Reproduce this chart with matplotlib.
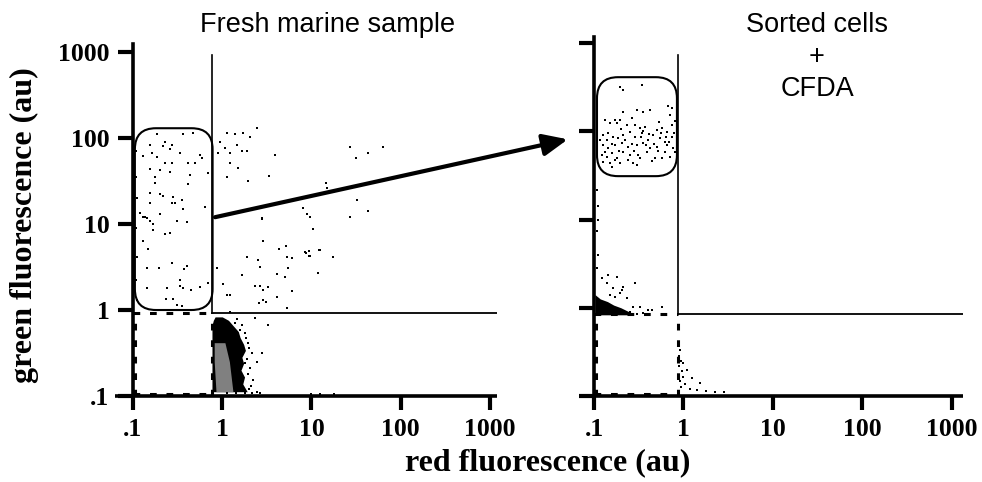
import numpy as np
import matplotlib
matplotlib.use('Agg')
import matplotlib.pyplot as plt
from matplotlib.patches import FancyBboxPatch, ConnectionPatch

plt.rcParams['font.family'] = ['Liberation Serif', 'DejaVu Serif']
plt.rcParams['font.weight'] = 'bold'

# axis ticks (au)
tick_values = [0.1, 1, 10, 100, 1000]
tick_labels = ['.1', '1', '10', '100', '1000']

# gates (au)
fresh_red_gate = 0.77
fresh_green_gate = 0.92
fresh_gate_top = 920
fresh_box = (0.105, 0.78, 1.0, 130)      # red lo, red hi, green lo, green hi
sorted_red_gate = 0.87
sorted_green_gate = 0.85
sorted_gate_top = 730
sorted_box = (0.108, 0.845, 31, 410)

# events, log10(red), log10(green)
fresh_gate_dots = np.array([
    (-0.73, 2.05), (-0.44, 2.05), (-0.33, 2.06), (-0.56, 1.92), (-0.66, 1.91), (-0.81, 1.92),
    (-0.64, 1.95), (-0.59, 1.87), (-0.47, 1.83), (-0.25, 1.80), (-0.79, 1.83), (-0.89, 1.79),
    (-0.73, 1.78), (-0.64, 1.71), (-0.56, 1.71), (-0.38, 1.71), (-0.31, 1.71), (-0.23, 1.77),
    (-0.81, 1.64), (-0.70, 1.63), (-0.59, 1.60), (-0.36, 1.57), (-0.16, 1.59), (-0.75, 1.55),
    (-0.75, 1.48), (-0.38, 1.47), (-0.81, 1.36), (-0.70, 1.35), (-0.66, 1.33), (-0.55, 1.31),
    (-0.56, 1.24), (-0.53, 1.24), (-0.45, 1.28), (-0.81, 1.24), (-0.44, 1.17), (-0.19, 1.20),
    (-0.92, 1.13), (-0.89, 1.08), (-0.70, 1.12), (-0.84, 1.07), (-0.87, 1.08), (-0.81, 1.03),
    (-0.78, 1.00), (-0.78, 0.93), (-0.51, 1.03), (-0.39, 1.02), (-0.59, 0.90), (-0.64, 0.88),
    (-0.89, 0.80), (-0.83, 0.71), (-0.56, 0.55), (-0.84, 0.49), (-0.71, 0.49), (-0.39, 0.51),
    (-0.43, 0.48), (-0.47, 0.35), (-0.47, 0.28), (-0.44, 0.26), (-0.62, 0.26), (-0.84, 0.26),
    (-0.35, 0.23), (-0.25, 0.27), (-0.16, 0.31), (-0.63, 0.13), (-0.55, 0.13), (-0.51, 0.06),
    (-0.45, 0.05), (-0.97, 1.85), (-0.97, 1.55), (-0.96, 1.30), (-0.97, 0.95), (-0.96, 0.62),
    (-0.97, 0.35), (-0.96, 0.12),
])
fresh_other_dots = np.array([
    (-0.03, 1.95), (0.05, 2.06), (0.14, 2.05), (0.23, 2.06), (0.31, 2.01), (0.39, 2.12),
    (0.17, 1.92), (0.03, 1.88), (0.09, 1.83), (-0.05, 1.83), (0.22, 1.85), (0.28, 1.85),
    (0.09, 1.71), (0.18, 1.65), (0.59, 1.80), (0.05, 1.55), (0.29, 1.50), (0.52, 1.56),
    (0.90, 1.19), (0.95, 1.12), (0.98, 1.08), (0.45, 1.07), (1.43, 1.90), (1.80, 1.90),
    (1.63, 1.83), (1.50, 1.77), (1.16, 1.48), (1.17, 1.42), (1.51, 1.28), (1.63, 1.15),
    (1.43, 1.08), (1.02, 0.94), (1.08, 0.70), (0.97, 0.69), (0.94, 0.66), (0.97, 0.63),
    (1.24, 0.62), (1.07, 0.43), (-0.06, 0.49), (0.01, 0.30), (0.05, 0.17), (0.09, 0.17),
    (0.28, 0.62), (0.22, 0.41), (0.40, 0.58), (0.42, 0.50), (0.46, 0.80), (0.45, 1.06),
    (0.37, 0.28), (0.42, 0.28), (0.51, 0.27), (0.46, 0.23), (0.46, 0.12), (0.49, 0.09),
    (0.41, 0.08), (0.61, 0.42), (0.64, 0.71), (0.71, 0.74), (0.73, 0.62), (0.78, 0.60),
    (0.74, 0.49), (0.70, 0.38), (0.61, 0.15), (0.78, 0.22), (0.73, 0.02), (0.93, 0.67),
    (0.98, 0.63), (1.10, 0.70), (0.09, -0.02), (0.37, -0.09), (0.51, -0.17),
    (0.14, -0.15), (0.20, -0.23), (0.29, -0.38), (0.33, -0.50), (0.45, -0.50), (0.39, -0.60),
    (0.34, -0.81), (0.39, -0.95), (0.25, -0.27), (0.05, -0.97), (0.15, -0.97), (0.25, -0.97),
    (0.33, -0.97), (0.42, -0.97), (1.0, -0.98), (1.1, -0.98), (1.25, -0.98),
    (0.27, -0.33), (0.30, -0.44), (0.28, -0.57), (0.31, -0.68), (0.29, -0.74), (0.32, -0.88),
    (0.22, -0.18), (0.17, -0.10), (0.26, -0.62), (0.30, -0.92),
])
# dense cluster outline: log10(green), left and right log10(red)
fresh_cluster_green = [-0.08, -0.12, -0.18, -0.25, -0.32, -0.40, -0.47, -0.55, -0.62,
                       -0.70, -0.78, -0.86, -0.95]
fresh_cluster_left = [-0.08, -0.10, -0.115, -0.115, -0.115, -0.115, -0.115, -0.115, -0.115,
                      -0.115, -0.115, -0.115, -0.115]
fresh_cluster_right = [0.0, 0.07, 0.12, 0.18, 0.20, 0.24, 0.26, 0.22, 0.24,
                       0.21, 0.25, 0.23, 0.28]
fresh_core_green = [-0.38, -0.60, -0.95]
fresh_core_left = [-0.09, -0.09, -0.07]
fresh_core_right = [0.03, 0.08, 0.12]

sorted_gate_dots = np.array([
    (-0.71, 2.50), (-0.46, 2.52), (-0.68, 2.47), (-0.68, 2.22), (-0.52, 2.24), (-0.45, 2.22),
    (-0.37, 2.24), (-0.17, 2.29), (-0.13, 2.26), (-0.15, 2.18), (-0.88, 2.13), (-0.82, 2.09),
    (-0.77, 2.13), (-0.74, 2.09), (-0.71, 2.13), (-0.63, 2.07), (-0.54, 2.07), (-0.49, 2.04),
    (-0.43, 2.05), (-0.30, 2.01), (-0.24, 2.04), (-0.18, 1.99), (-0.13, 2.07), (-0.90, 1.96),
    (-0.84, 1.98), (-0.79, 1.93), (-0.73, 1.92), (-0.68, 1.96), (-0.60, 1.99), (-0.54, 1.93),
    (-0.46, 1.98), (-0.40, 1.90), (-0.34, 1.96), (-0.26, 1.92), (-0.21, 1.88), (-0.13, 1.93),
    (-0.90, 1.84), (-0.84, 1.81), (-0.77, 1.84), (-0.69, 1.87), (-0.62, 1.82), (-0.52, 1.84),
    (-0.45, 1.87), (-0.37, 1.81), (-0.30, 1.82), (-0.18, 1.84), (-0.12, 1.81), (-0.91, 1.73),
    (-0.85, 1.71), (-0.80, 1.75), (-0.74, 1.70), (-0.68, 1.76), (-0.60, 1.73), (-0.51, 1.73),
    (-0.49, 1.70), (-0.41, 1.76), (-0.32, 1.70), (-0.24, 1.70), (-0.15, 1.71), (-0.90, 1.65),
    (-0.82, 1.64), (-0.77, 1.67), (-0.71, 1.64), (-0.56, 1.64), (-0.21, 1.76), (-0.07, 1.81),
    (-0.86, 1.90), (-0.80, 1.86), (-0.72, 1.78), (-0.65, 1.90), (-0.58, 1.86), (-0.55, 1.78),
    (-0.47, 1.93), (-0.42, 1.84), (-0.38, 1.97), (-0.33, 1.86), (-0.28, 1.78), (-0.25, 1.98),
    (-0.20, 1.93), (-0.16, 1.88), (-0.11, 1.98), (-0.09, 1.76), (-0.88, 1.76), (-0.93, 1.90),
    (-0.62, 1.68), (-0.35, 1.66), (-0.27, 2.10), (-0.57, 2.15), (-0.45, 2.00), (-0.70, 2.02),
    (-0.10, 2.12), (-0.52, 1.62), (-0.80, 1.60),
])
sorted_other_dots = np.array([
    (-0.91, 0.34), (-0.84, 0.37), (-0.74, 0.35), (-0.85, 0.28), (-0.79, 0.22), (-0.68, 0.24),
    (-0.54, 0.28), (-0.69, 0.20), (-0.82, 0.14), (-0.77, 0.12), (-0.71, 0.17), (-0.63, 0.11),
    (-0.56, 0.01), (-0.49, 0.01), (-0.35, -0.03), (-0.24, 0.01), (-0.97, 1.33), (-0.96, 1.15),
    (-0.96, 0.99), (-0.97, 0.87), (-0.96, 0.60), (-0.97, 0.45),
    (-0.05, -0.40), (-0.04, -0.48), (-0.05, -0.55), (-0.03, -0.60), (-0.05, -0.66), (-0.02, -0.72),
    (0.0, -0.78), (-0.04, -0.83), (0.02, -0.86), (-0.03, -0.90), (0.04, -0.71), (0.10, -0.80),
    (0.18, -0.85), (0.07, -0.92), (0.15, -0.93), (0.25, -0.94), (0.35, -0.95), (0.45, -0.95),
    (-0.01, -0.63), (-0.60, -0.05), (-0.52, -0.07), (-0.45, -0.06), (-0.40, -0.02),
])
# dense blob next to the green axis: log10(red), top/bottom log10(green)
sorted_blob_red = [-0.99, -0.93, -0.85, -0.78, -0.70, -0.62, -0.56]
sorted_blob_top = [0.15, 0.10, 0.07, 0.03, 0.0, -0.04, -0.065]
sorted_blob_bottom = [-0.08, -0.08, -0.08, -0.08, -0.08, -0.08, -0.08]

W, H = 982, 482
fig = plt.figure(figsize=(W / 100, H / 100), dpi=100)
ax1 = fig.add_axes([133 / W, 86 / H, 364 / W, 352 / H])
ax2 = fig.add_axes([594 / W, 86 / H, 369 / W, 359 / H])


def to_axes(ax, x, y):
    return (ax.transData + ax.transAxes.inverted()).transform((x, y))


def setup(ax, xmax, ymax, ylabels, ext):
    ax.set_xscale('log')
    ax.set_yscale('log')
    ax.set_xlim(0.1, xmax)
    ax.set_ylim(0.1, ymax)
    ax.minorticks_off()
    ax.set_xticks(tick_values, tick_labels)
    ax.set_yticks(tick_values, tick_labels if ylabels else [])
    for s in ['top', 'right', 'bottom']:
        ax.spines[s].set_visible(False)
    ax.spines['left'].set_linewidth(2.6)
    ax.tick_params(axis='x', direction='out', length=10, width=3, pad=6, labelsize=18.5)
    ax.tick_params(axis='y', direction='out', length=11, width=3, pad=6, labelsize=18.5)
    ax.plot([-ext, 1], [0, 0], transform=ax.transAxes, color='k', lw=2.6,
            clip_on=False, solid_capstyle='butt')
    ax.patch.set_alpha(0)


def gates(ax, red, green, top, box, xmax):
    ax.plot([red, red], [green, top], color='k', lw=1.2)
    ax.plot([red, xmax], [green, green], color='k', lw=1.3)
    dash = (0, (2.2, 3.2))
    ax.plot([0.1, red], [green, green], color='k', lw=2.2, ls=dash)
    ax.plot([red, red], [0.1, green], color='k', lw=2.2, ls=dash)
    ax.plot([0.104, 0.104], [0.1, green], color='k', lw=2.2, ls=dash)
    ax.plot([0.1, red], [0.106, 0.106], color='k', lw=2.2, ls=dash)
    pos = ax.get_position()
    w_px, h_px = pos.width * W, pos.height * H
    x0, y0 = to_axes(ax, box[0], box[2])
    x1, y1 = to_axes(ax, box[1], box[3])
    r = 21 / w_px
    ax.add_patch(FancyBboxPatch((x0, y0), x1 - x0, y1 - y0,
                                boxstyle=f'round,pad=0,rounding_size={r}',
                                mutation_aspect=w_px / h_px, transform=ax.transAxes,
                                fill=False, ec='k', lw=1.5))


def dots(ax, pts):
    ax.scatter(10 ** pts[:, 0], 10 ** pts[:, 1], s=3, marker='s', c='k', linewidths=0)


# fresh marine sample
setup(ax1, 1200, 1240, True, 18 / 364)
gates(ax1, fresh_red_gate, fresh_green_gate, fresh_gate_top, fresh_box, 1200)
ax1.fill_betweenx(10 ** np.array(fresh_cluster_green), 10 ** np.array(fresh_cluster_left),
                  10 ** np.array(fresh_cluster_right), color='k', lw=0)
ax1.fill_betweenx(10 ** np.array(fresh_core_green), 10 ** np.array(fresh_core_left),
                  10 ** np.array(fresh_core_right), color='0.5', lw=0)
dots(ax1, fresh_gate_dots)
dots(ax1, fresh_other_dots)

# sorted cells + CFDA
setup(ax2, 1330, 1170, False, 14 / 369)
gates(ax2, sorted_red_gate, sorted_green_gate, sorted_gate_top, sorted_box, 1330)
ax2.fill_between(10 ** np.array(sorted_blob_red), 10 ** np.array(sorted_blob_bottom),
                 10 ** np.array(sorted_blob_top), color='k', lw=0)
dots(ax2, sorted_gate_dots)
dots(ax2, sorted_other_dots)

arrow = ConnectionPatch(xyA=(0.83, 12), coordsA=ax1.transData,
                        xyB=(0.051, 81), coordsB=ax2.transData,
                        arrowstyle='-|>,head_length=0.75,head_width=0.33',
                        mutation_scale=20, lw=3, color='k')
fig.add_artist(arrow)

fig.text(328 / W, 1 - 25 / H, 'Fresh marine sample', ha='center', va='center',
         family='Liberation Sans', weight='normal', size=19.5)
fig.text(817 / W, 1 - 57 / H, 'Sorted cells\n+\nCFDA', ha='center', va='center',
         family='Liberation Sans', weight='normal', size=19.5, linespacing=1.3)
fig.text(548 / W, 1 - 463 / H, 'red fluorescence (au)', ha='center', va='center', size=23)
fig.text(24 / W, 1 - 225 / H, 'green fluorescence (au)', ha='center', va='center',
         size=23, rotation=90)

fig.savefig('out.png', dpi=100)
